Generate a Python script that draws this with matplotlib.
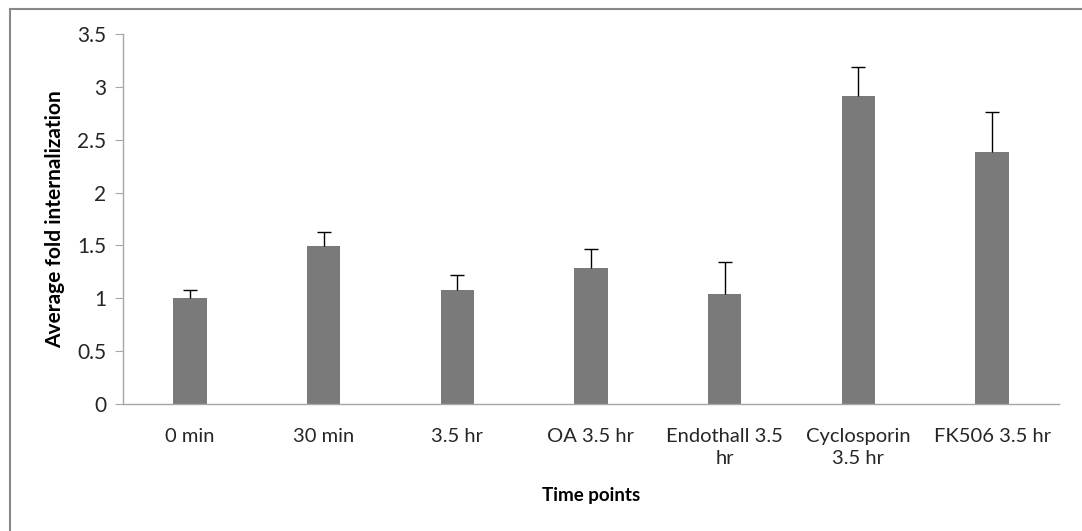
import numpy as np
import matplotlib
matplotlib.use("Agg")
import matplotlib.pyplot as plt
from matplotlib.patches import Rectangle

plt.rcParams['font.family'] = ['Lato', 'DejaVu Sans']

# data
labels = ['0 min', '30 min', '3.5 hr', 'OA 3.5 hr', 'Endothall 3.5\nhr',
          'Cyclosporin\n3.5 hr', 'FK506 3.5 hr']
means = [1.0, 1.49, 1.08, 1.29, 1.04, 2.91, 2.38]
errs = [0.08, 0.14, 0.14, 0.18, 0.30, 0.28, 0.38]

fig = plt.figure(figsize=(10.82, 5.31), dpi=100)
ax = fig.add_axes([0.1137, 0.2392, 0.865, 0.6968])

x = np.arange(len(labels))
ax.bar(x, means, width=0.25, color='#7a7a7a', zorder=2)
eb = ax.errorbar(x, means, yerr=[np.zeros(len(errs)), errs], fmt='none',
                 ecolor='black', elinewidth=1, capsize=5, capthick=1, zorder=3)
# only the upper cap, like the excel "plus" error bars
eb[1][0].set_visible(False)

ax.set_xlim(-0.5, len(labels) - 0.5)
ax.set_ylim(0, 3.5)
ax.set_yticks(np.arange(0, 3.51, 0.5))
ax.set_yticklabels(['0', '0.5', '1', '1.5', '2', '2.5', '3', '3.5'])
ax.set_xticks(x)
ax.set_xticklabels(labels, linespacing=1.4)

for s in ['top', 'right']:
    ax.spines[s].set_visible(False)
for s in ['left', 'bottom']:
    ax.spines[s].set_color('#a6a6a6')
    ax.spines[s].set_linewidth(1)

ax.tick_params(axis='y', length=6, color='#a6a6a6', labelsize=15,
               labelcolor='#262626', pad=6)
ax.tick_params(axis='x', length=0, labelsize=14.5, labelcolor='#262626', pad=17)

ax.set_ylabel('Average fold internalization', fontsize=15, fontweight='bold',
              labelpad=9)
ax.set_xlabel('Time points', fontsize=13.5, fontweight='bold', labelpad=14)

# outer chart border (only left/top visible in the crop)
fig.patches.append(Rectangle((10 / 1082, -0.1), 1.2, 1 - 9 / 531 + 0.1,
                             transform=fig.transFigure, fill=False,
                             edgecolor='#888888', linewidth=1.5))

fig.savefig('out.png', dpi=100)
